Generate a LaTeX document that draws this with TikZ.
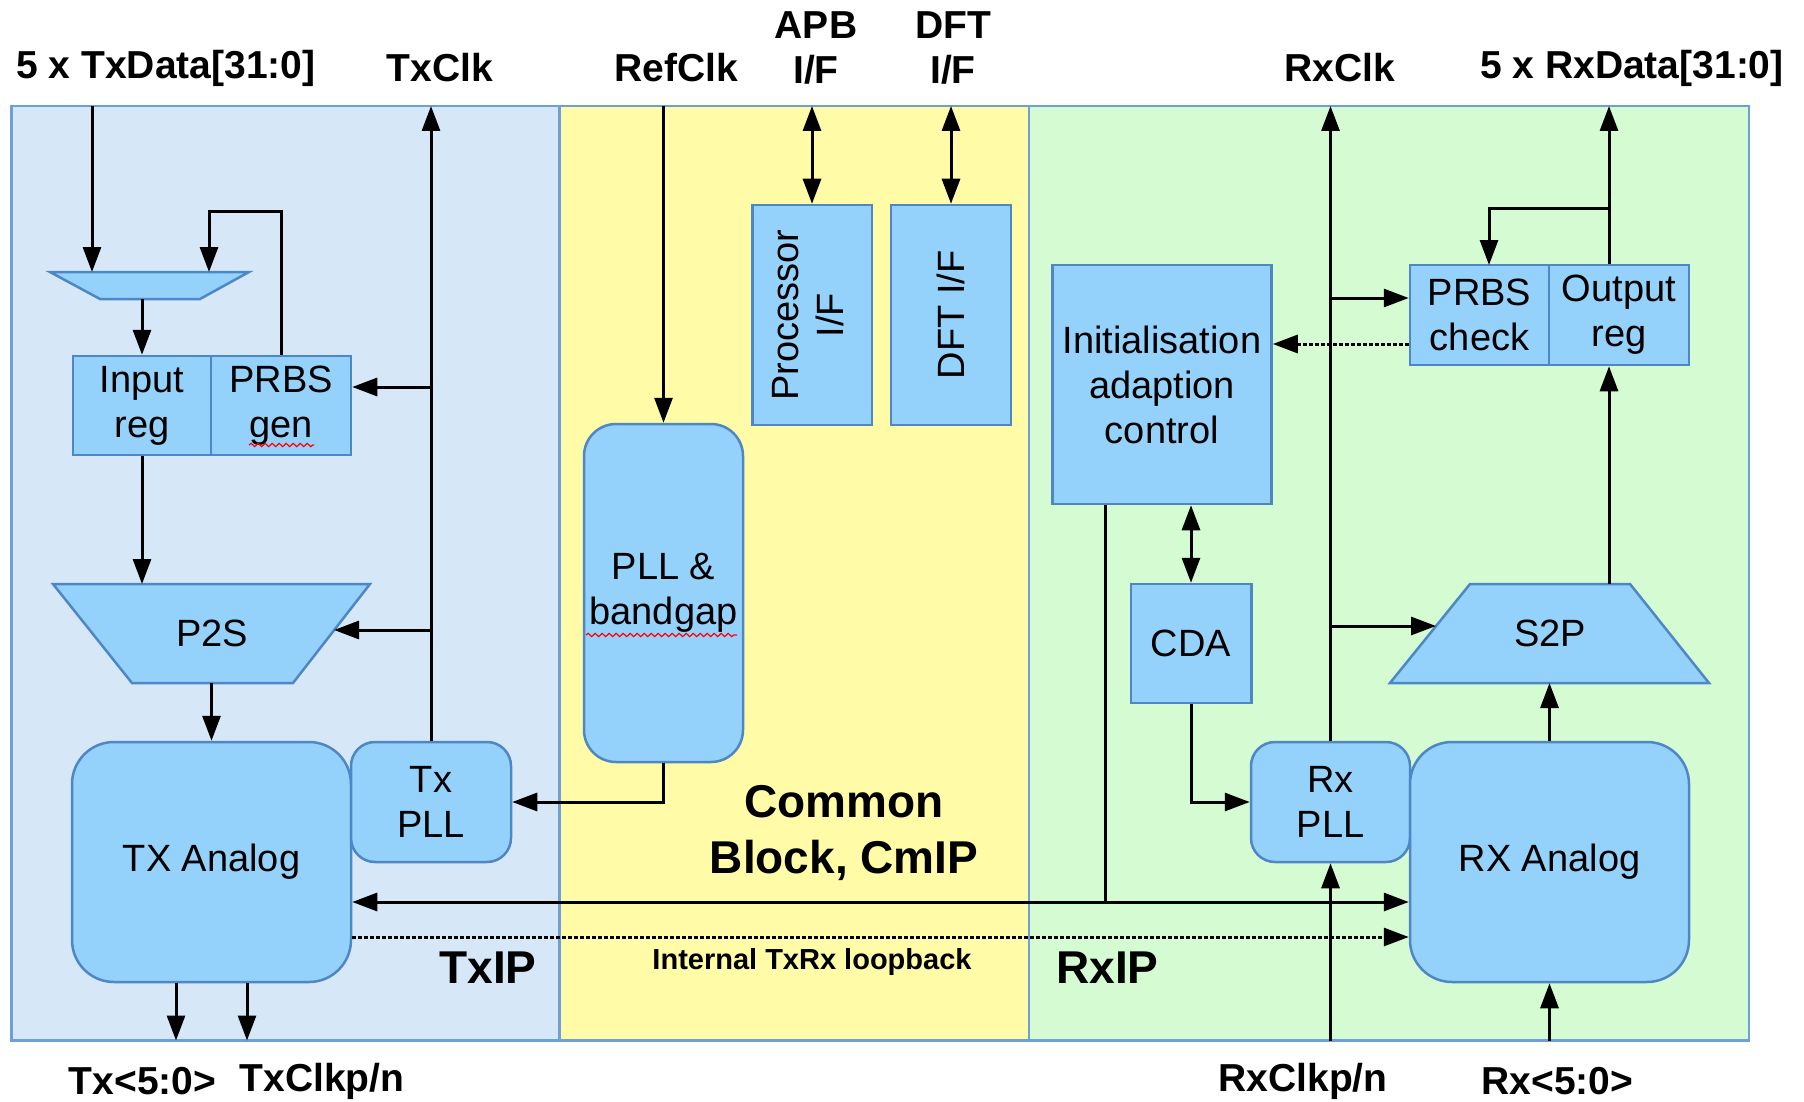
\documentclass[tikz,border=0pt]{standalone}
\usepackage{fontspec}
\setmainfont{Liberation Sans}
\usetikzlibrary{arrows.meta,decorations.pathmorphing}
\definecolor{txbg}{HTML}{D6E8F7}
\definecolor{cmbg}{HTML}{FFFBA6}
\definecolor{rxbg}{HTML}{D5FBD3}
\definecolor{blkfill}{HTML}{95D2FB}
\definecolor{blkline}{HTML}{4F86C6}
\definecolor{frameline}{HTML}{6F9FD8}
\newcommand\lblfont{\bfseries\fontsize{39}{45}\selectfont}
\newcommand\blkfont{\fontsize{38}{45}\selectfont}
\newcommand\regfont{\bfseries\fontsize{46}{56}\selectfont}
\newcommand\loopfont{\bfseries\fontsize{29}{34}\selectfont}
\begin{document}
\begin{tikzpicture}[x=1pt,y=-1pt,
  blk/.style={draw=blkline,fill=blkfill,line width=2.5pt,font=\blkfont,align=center,inner sep=0pt},
  trap/.style={draw=blkline,fill=blkfill,line width=2.5pt},
  region/.style={draw=frameline,line width=2.5pt},
  wire/.style={line width=3pt,black},
  arr/.style={-{Triangle[length=25pt,width=18pt]}},
  barr/.style={{Triangle[length=25pt,width=18pt]}-{Triangle[length=25pt,width=18pt]}},
  dots/.style={line width=3pt,dash pattern=on 3.5pt off 2.5pt},
  toplbl/.style={font=\lblfont,align=center,inner sep=0pt},
  spell/.style={red,line width=1.2pt,decorate,decoration={snake,segment length=7pt,amplitude=1.6pt}}
]
\path[use as bounding box,fill=white] (0,0) rectangle (1804,1102);
% regions
\draw[region,fill=txbg] (11.5,106) rectangle (559.5,1040.5);
\draw[region,fill=cmbg] (559.5,106) rectangle (1029,1040.5);
\draw[region,fill=rxbg] (1029,106) rectangle (1749,1040.5);

% frame coordinates
\coordinate (fTxData) at (92,106);
\coordinate (fTxClk) at (431,106);
\coordinate (fRefClk) at (663.5,106);
\coordinate (fAPB) at (812,106);
\coordinate (fDFT) at (951,106);
\coordinate (fRxClk) at (1330.5,106);
\coordinate (fRxData) at (1609,106);
\coordinate (fTx) at (176,1040.5);
\coordinate (fTxClkpn) at (247,1040.5);
\coordinate (fRxClkpn) at (1330.5,1040.5);
\coordinate (fRx) at (1549.5,1040.5);

% blocks
\node[blk,minimum width=138pt,minimum height=99pt] (inreg) at (142,405.5) {Input\\reg};
\node[blk,minimum width=140pt,minimum height=99pt] (prbsgen) at (281,405.5) {PRBS\\gen};
\node[blk,rounded corners=42pt,minimum width=279pt,minimum height=240pt] (txana) at (211.5,862) {TX Analog};
\node[blk,rounded corners=24pt,minimum width=160pt,minimum height=120pt] (txpll) at (431,802) {Tx\\PLL};
\node[blk,rounded corners=32pt,minimum width=159pt,minimum height=338pt] (pll) at (663.5,593) {PLL \&\\bandgap};
\node[blk,minimum width=119.5pt,minimum height=220pt] (proc) at (812,315) {\rotatebox{90}{\begin{tabular}{@{}c@{}}Processor\\I/F\end{tabular}}};
\node[blk,minimum width=120pt,minimum height=220pt] (dft) at (951,315) {\rotatebox{90}{DFT I/F}};
\node[blk,minimum width=219pt,minimum height=239pt] (init) at (1162,384.5) {Initialisation\\adaption\\control};
\node[blk,minimum width=139pt,minimum height=100pt] (prbschk) at (1479.5,315) {PRBS\\check};
\node[blk,minimum width=140pt,minimum height=100pt] (outreg) at (1619,315) {Output\\reg};
\node[blk,minimum width=120.5pt,minimum height=119pt] (cda) at (1191,643.5) {CDA};
\node[blk,rounded corners=24pt,minimum width=159pt,minimum height=120pt] (rxpll) at (1330.5,802) {Rx\\PLL};
\node[blk,rounded corners=42pt,minimum width=279pt,minimum height=240pt] (rxana) at (1549.5,862) {RX Analog};

% trapezoids
\draw[trap] (50,272) -- (249,272) -- (200,299) -- (100,299) -- cycle;
\coordinate (muxinL) at (92,272);
\coordinate (muxinR) at (209,272);
\coordinate (muxfb) at (209,212);
\coordinate (muxout) at (142,299);
\draw[trap] (53,584) -- (370,584) -- (293,683) -- (132,683) -- cycle;
\node[font=\blkfont] (p2s) at (212,633) {P2S};
\coordinate (p2sin) at (142,584);
\coordinate (p2sclk) at (334,630);
\coordinate (p2sout) at (211.5,683);
\draw[trap] (1390,683) -- (1709,683) -- (1630,584) -- (1470,584) -- cycle;
\node[font=\blkfont] (s2p) at (1550,633) {S2P};
\coordinate (s2pin) at (1549.5,683);
\coordinate (s2pclk) at (1436,626);
\coordinate (s2pout) at (1609,584);

% junctions
\coordinate (txclkA) at (431,387);
\coordinate (txclkB) at (431,630);
\coordinate (rxclkA) at (1330.5,298);
\coordinate (rxclkB) at (1330.5,626);
\coordinate (chkdot) at (1340,344);
\coordinate (rxfb) at (1609,209);
\coordinate (chkin) at (1489,265);
\coordinate (busy) at (1105,902);
\coordinate (loopy) at (800,937);

% TX connectors
\draw[wire,arr] (fTxData) -- (muxinL);
\draw[wire,arr] (prbsgen.north) |- (muxfb) -- (muxinR);
\draw[wire,arr] (muxout) -- (inreg.north);
\draw[wire,arr] (inreg.south) -- (p2sin);
\draw[wire,arr] (p2sout) -- (txana.north);
\draw[wire,arr] (txpll.north) -- (fTxClk);
\draw[wire,arr] (txclkA) -- (prbsgen.east |- txclkA);
\draw[wire,arr] (txclkB) -- (p2sclk);
\draw[wire,arr] (fTx |- txana.south) -- (fTx);
\draw[wire,arr] (fTxClkpn |- txana.south) -- (fTxClkpn);

% common connectors
\draw[wire,arr] (fRefClk) -- (pll.north);
\draw[wire,arr] (pll.south) |- (txpll.east);
\draw[wire,barr] (fAPB) -- (proc.north);
\draw[wire,barr] (fDFT) -- (dft.north);
\draw[wire,barr] (txana.east |- busy) -- (rxana.west |- busy);
\draw[wire] (busy |- init.south) -- (busy);
\draw[wire,dots,arr] (txana.east |- loopy) -- (rxana.west |- loopy);

% RX connectors
\draw[wire,barr] (cda.north |- init.south) -- (cda.north);
\draw[wire,arr] (cda.south) |- (rxpll.west);
\draw[wire,arr] (rxpll.north) -- (fRxClk);
\draw[wire,arr] (rxclkA) -- (prbschk.west |- rxclkA);
\draw[wire,arr] (rxclkB) -- (s2pclk);
\draw[wire,dots,arr] (prbschk.west |- chkdot) -- (init.east |- chkdot);
\draw[wire,arr] (fRxClkpn) -- (rxpll.south);
\draw[wire,arr] (fRx) -- (rxana.south);
\draw[wire,arr] (rxana.north) -- (s2pin);
\draw[wire,arr] (s2pout) -- (s2pout |- outreg.south);
\draw[wire,arr] (s2pout |- outreg.north) -- (fRxData);
\draw[wire,arr] (rxfb) -| (chkin);

% labels
\node[toplbl] (lTxData) at (166,68) {5 x TxData[31:0]};
\node[toplbl] (lTxClk) at (440,68) {TxClk};
\node[toplbl] (lRefClk) at (676,68) {RefClk};
\node[toplbl] (lAPB) at (816,47.5) {APB\\I/F};
\node[toplbl] (lDFT) at (953,47.5) {DFT\\I/F};
\node[toplbl] (lRxClk) at (1340,68) {RxClk};
\node[toplbl] (lRxData) at (1632,68) {5 x RxData[31:0]};
\node[toplbl] (lTx) at (142.6,1081) {Tx<5:0>};
\node[toplbl] (lTxClkpn) at (322,1081) {TxClkp/n};
\node[toplbl] (lRxClkpn) at (1303,1081) {RxClkp/n};
\node[toplbl] (lRx) at (1557.5,1081) {Rx<5:0>};
\node[font=\regfont] (lTxIP) at (488,968) {TxIP};
\node[font=\regfont] (lRxIP) at (1107.5,968) {RxIP};
\node[font=\regfont,align=center] (lCm) at (844,833) {Common\\Block, CmIP};
\node[font=\loopfont] (lLoop) at (812,962) {Internal TxRx loopback};

% spell-check squiggles
\draw[spell] (249,445) -- (314,445);
\draw[spell] (586,635) -- (737,635);
\end{tikzpicture}
\end{document}
